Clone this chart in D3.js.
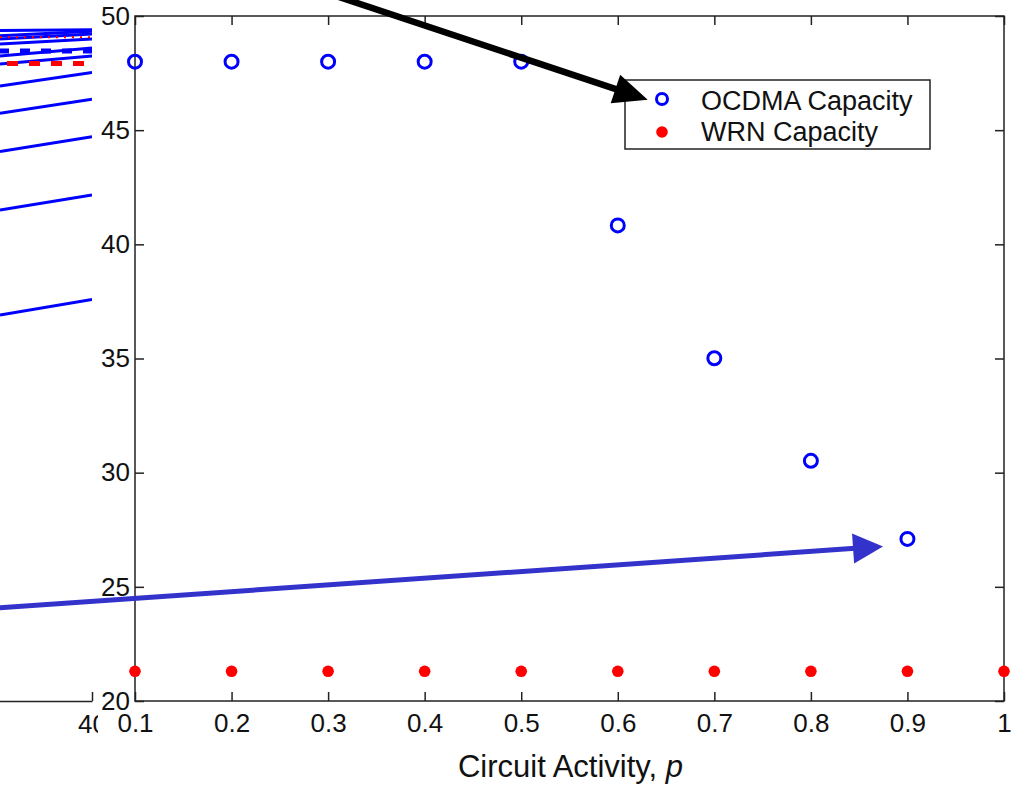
<!DOCTYPE html>
<html>
<head>
<meta charset="utf-8">
<script src="https://cdn.jsdelivr.net/npm/d3@7"></script>
<style>
  html, body { margin: 0; padding: 0; background: #fff; }
  svg { display: block; }
  text { font-family: "Liberation Sans", Arial, Helvetica, sans-serif; fill: #111; }
</style>
</head>
<body>
<svg id="chart" width="1018" height="786"></svg>
<script>
// Circuit activity values on the x axis
const activity = [0.1, 0.2, 0.3, 0.4, 0.5, 0.6, 0.7, 0.8, 0.9, 1.0];
// OCDMA capacity (no point at p = 1.0)
const ocdmaCapacity = [48.0, 48.0, 48.0, 48.0, 48.0, 40.83, 35.01, 30.52, 27.1];
// WRN capacity, flat over all activities
const wrnCapacity = [21.3, 21.3, 21.3, 21.3, 21.3, 21.3, 21.3, 21.3, 21.3, 21.3];

const xTickValues = [0.1, 0.2, 0.3, 0.4, 0.5, 0.6, 0.7, 0.8, 0.9, 1];
const yTickValues = [20, 25, 30, 35, 40, 45, 50];

const legendLabels = ["OCDMA Capacity", "WRN Capacity"];

// Neighbouring panel (only its right edge is in view)
const sideX = [36, 40];
const sideSolidBlue = [
  [49.36, 49.40],
  [49.14, 49.33],
  [48.99, 49.21],
  [48.77, 48.99],
  [48.25, 48.60],
  [47.90, 48.25],
  [46.93, 47.53],
  [45.74, 46.35],
  [44.06, 44.71],
  [41.50, 42.16],
  [36.90, 37.59]
];
const sideDashedBlue = [48.47, 48.47];
const sideDottedRed = [49.07, 49.07];
const sideDashedRed = [47.92, 47.92];
const sideTicks = [40];

// Annotation arrows, in data coordinates of the main axes
const blackArrow = { from: [0.271, 51.4], to: [0.631, 46.33] };
const blueArrow = { from: [-0.045, 24.07], to: [0.8747, 26.77] };

const svg = d3.select("#chart");
const W = 1018, H = 786;
const plotL = 135, plotR = 1004, plotT = 16, plotB = 701;

const x = d3.scaleLinear().domain([0.1, 1.0]).range([plotL, plotR]);
const y = d3.scaleLinear().domain([20, 50]).range([plotB, plotT]);

const axisColor = "#222";
const tickFont = 26;

// ---------- neighbouring panel ----------
const sx = d3.scaleLinear().domain([30, 40]).range([-138, 92]);
const defs = svg.append("defs");
defs.append("clipPath").attr("id", "sideClip")
  .append("rect").attr("x", -10).attr("y", 0).attr("width", 102).attr("height", plotB);
defs.append("clipPath").attr("id", "sideAxisClip")
  .append("rect").attr("x", 0).attr("y", 0).attr("width", 98).attr("height", H);

const side = svg.append("g").attr("clip-path", "url(#sideClip)");
const sideLine = d3.line().x((d, i) => sx(sideX[i])).y(d => y(d));

side.selectAll("path.solid").data(sideSolidBlue).join("path")
  .attr("class", "solid")
  .attr("d", sideLine)
  .attr("fill", "none").attr("stroke", "#0000ff").attr("stroke-width", 3);

side.append("path").attr("d", sideLine(sideDottedRed))
  .attr("fill", "none").attr("stroke", "#ff0000").attr("stroke-width", 2)
  .attr("stroke-dasharray", "2,6");

side.append("path").attr("d", sideLine(sideDashedBlue))
  .attr("fill", "none").attr("stroke", "#0000ff").attr("stroke-width", 5)
  .attr("stroke-dasharray", "10,11").attr("stroke-dashoffset", 1);

side.append("path").attr("d", sideLine(sideDashedRed))
  .attr("fill", "none").attr("stroke", "#ff0000").attr("stroke-width", 5)
  .attr("stroke-dasharray", "11,11").attr("stroke-dashoffset", -7);

const sideAxis = svg.append("g")
  .attr("clip-path", "url(#sideAxisClip)")
  .append("g")
  .attr("transform", `translate(0,${plotB})`)
  .call(d3.axisBottom(sx).tickValues(sideTicks).tickSizeInner(-9).tickSizeOuter(0).tickPadding(14).tickFormat(d3.format("d")));
sideAxis.select(".domain").attr("stroke", axisColor).attr("stroke-width", 1.5);
sideAxis.selectAll(".tick line").attr("stroke", axisColor).attr("stroke-width", 1.5);
sideAxis.selectAll("text").attr("font-size", tickFont).attr("fill", "#111").attr("font-family", "Liberation Sans, Arial, sans-serif");

// white backing of the main axes so the neighbour is covered
svg.append("rect").attr("x", 98).attr("y", 0).attr("width", W - 98).attr("height", H).attr("fill", "#fff");

// ---------- main axes ----------
function styleAxis(g) {
  g.select(".domain").remove();
  g.selectAll(".tick line").attr("stroke", axisColor).attr("stroke-width", 1.5);
  g.selectAll("text").attr("font-size", tickFont).attr("fill", "#111")
    .attr("font-family", "Liberation Sans, Arial, sans-serif");
}

const xAxis = svg.append("g").attr("transform", `translate(0,${plotB})`)
  .call(d3.axisBottom(x).tickValues(xTickValues).tickSizeInner(-9).tickSizeOuter(0).tickPadding(13).tickFormat(d => String(d)));
styleAxis(xAxis);

svg.append("g").attr("transform", `translate(0,${plotT})`)
  .call(d3.axisTop(x).tickValues(xTickValues).tickSizeInner(-9).tickSizeOuter(0).tickFormat(""))
  .call(styleAxis);

const yAxis = svg.append("g").attr("transform", `translate(${plotL},0)`)
  .call(d3.axisLeft(y).tickValues(yTickValues).tickSizeInner(-9).tickSizeOuter(0).tickPadding(5));
styleAxis(yAxis);

svg.append("g").attr("transform", `translate(${plotR},0)`)
  .call(d3.axisRight(y).tickValues(yTickValues).tickSizeInner(-9).tickSizeOuter(0).tickFormat(""))
  .call(styleAxis);

// box
svg.append("rect")
  .attr("x", plotL).attr("y", plotT)
  .attr("width", plotR - plotL).attr("height", plotB - plotT)
  .attr("fill", "none").attr("stroke", axisColor).attr("stroke-width", 1.5);

// x label
const xl = svg.append("text")
  .attr("x", (plotL + plotR) / 2 + 1).attr("y", 777)
  .attr("text-anchor", "middle").attr("font-size", 31);
xl.append("tspan").text("Circuit Activity, ");
xl.append("tspan").attr("font-style", "italic").text("p");

// ---------- data markers ----------
svg.append("g").selectAll("circle").data(wrnCapacity).join("circle")
  .attr("cx", (d, i) => x(activity[i])).attr("cy", d => y(d))
  .attr("r", 5.8).attr("fill", "#ff0000");

svg.append("g").selectAll("circle").data(ocdmaCapacity).join("circle")
  .attr("cx", (d, i) => x(activity[i])).attr("cy", d => y(d))
  .attr("r", 6.5).attr("fill", "none").attr("stroke", "#0000ff").attr("stroke-width", 3);

// ---------- legend ----------
const lg = svg.append("g");
lg.append("rect").attr("x", 625).attr("y", 80).attr("width", 305).attr("height", 69)
  .attr("fill", "#fff").attr("stroke", axisColor).attr("stroke-width", 1.5);
lg.append("circle").attr("cx", 662).attr("cy", 99).attr("r", 5.5)
  .attr("fill", "none").attr("stroke", "#0000ff").attr("stroke-width", 3);
lg.append("circle").attr("cx", 662).attr("cy", 132).attr("r", 5.8).attr("fill", "#ff0000");
lg.append("text").attr("x", 701).attr("y", 109.5).attr("font-size", 27).text(legendLabels[0]);
lg.append("text").attr("x", 701).attr("y", 140.5).attr("font-size", 27).text(legendLabels[1]);

// ---------- annotation arrows ----------
function arrow(a, color, width, headLen, headHalf) {
  const x0 = x(a.from[0]), y0 = y(a.from[1]);
  const x1 = x(a.to[0]), y1 = y(a.to[1]);
  const len = Math.hypot(x1 - x0, y1 - y0);
  const ux = (x1 - x0) / len, uy = (y1 - y0) / len;
  const bx = x1 - ux * headLen, by = y1 - uy * headLen;
  svg.append("line")
    .attr("x1", x0).attr("y1", y0).attr("x2", bx + ux * 2).attr("y2", by + uy * 2)
    .attr("stroke", color).attr("stroke-width", width);
  svg.append("polygon")
    .attr("points", [
      [x1, y1],
      [bx - uy * headHalf, by + ux * headHalf],
      [bx + uy * headHalf, by - ux * headHalf]
    ].map(p => p.join(",")).join(" "))
    .attr("fill", color);
}
arrow(blackArrow, "#000", 6.5, 34, 15);
arrow(blueArrow, "#3333cc", 5, 30, 15);
</script>
</body>
</html>
